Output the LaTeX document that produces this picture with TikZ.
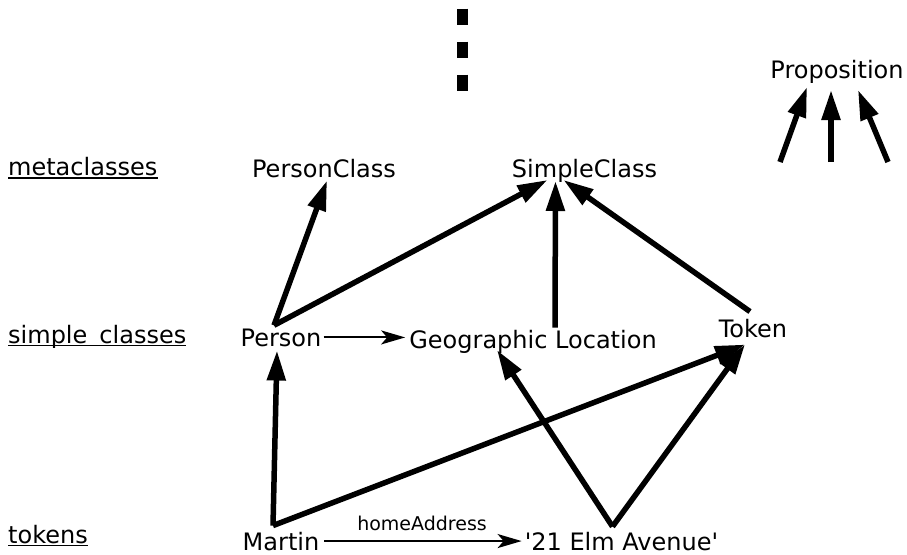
\documentclass[tikz,border=0pt]{standalone}
\usepackage{fontspec}
\setmainfont{DejaVu Sans}
\usetikzlibrary{arrows.meta}

\begin{document}
\begin{tikzpicture}[x=1pt, y=-1pt,
    every node/.style={inner sep=0pt, anchor=base, font=\fontsize{24}{27}\selectfont},
    level/.style={anchor=base west},
    isa/.style={line width=5.5pt, -{Triangle[length=30pt,width=18pt]}},
    attr/.style={line width=2pt, -{Stealth[length=24pt,width=14pt,inset=6pt]}},
    ul/.style={line width=1.8pt}]
  \useasboundingbox (0,0) rectangle (907,554);

  % levels
  \node[level] (meta) at (8,175) {metaclasses};
  \node[level] (simple) at (8,343) {simple\hspace{0.5em}classes};
  \node[level] (tok) at (8,543) {tokens};
  \draw[ul] ([yshift=-3pt]meta.base west) -- ([yshift=-3pt]meta.base east);
  \draw[ul] ([yshift=-2.5pt]simple.base west) -- ([yshift=-2.5pt]simple.base east);
  \draw[ul] ([yshift=-2.5pt]tok.base west) -- ([yshift=-2.5pt]tok.base east);

  % vertical ellipsis
  \draw[line width=11pt, dash pattern=on 16pt off 17pt] (462,8.5) -- (462,91);

  % classes and tokens
  \node (prop) at (837,78) {Proposition};
  \node (pcls) at (324,177) {PersonClass};
  \node (scls) at (584.5,177) {SimpleClass};
  \node (person) at (281,346) {Person};
  \node (geo) at (533,348) {Geographic Location};
  \node (token) at (753,337) {Token};
  \node (martin) at (281,550) {Martin};
  \node (elm) at (621.5,550) {\textquotesingle21 Elm Avenue\textquotesingle};

  \coordinate (p1) at (780,162);
  \coordinate (p2) at (831,162);
  \coordinate (p3) at (888,162);

  \draw[isa] (p1) -- ([xshift=-30pt,yshift=-9pt]prop.base);
  \draw[isa] (p2) -- ([xshift=-6pt,yshift=-12pt]prop.base);
  \draw[isa] (p3) -- ([xshift=21pt,yshift=-12pt]prop.base);

  \draw[isa] ([xshift=-7pt,yshift=3pt]person.north) -- ([xshift=3pt,yshift=-3pt]pcls.south);
  \draw[isa] ([xshift=-7pt,yshift=3pt]person.north) -- ([xshift=-37pt,yshift=-3pt]scls.base);
  \draw[isa] ([xshift=22pt,yshift=2pt]geo.north) -- ([xshift=-29pt,yshift=-4pt]scls.base);
  \draw[isa] ([xshift=-3pt,yshift=7pt]token.north) -- ([xshift=-21pt,yshift=-3pt]scls.base);

  \draw[isa] ([xshift=-8pt,yshift=6pt]martin.north) -- ([xshift=-4pt,yshift=-4pt]person.south);
  \draw[isa] ([xshift=-8pt,yshift=6pt]martin.north) -- ([xshift=-8pt,yshift=-7pt]token.south);
  \draw[isa] ([xshift=-9pt,yshift=5pt]elm.north) -- ([xshift=-36pt,yshift=-2pt]geo.base);
  \draw[isa] ([xshift=-9pt,yshift=5pt]elm.north) -- ([xshift=-8pt,yshift=-7pt]token.south);

  \draw[attr, shorten <=2pt, shorten >=4pt] (person.east) -- (person.east -| geo.west);
  \draw[attr, shorten <=5pt, shorten >=3pt] (martin.east) -- (martin.east -| elm.west)
    node[midway, above=9pt, font=\fontsize{19}{22}\selectfont] {homeAddress};
\end{tikzpicture}
\end{document}
